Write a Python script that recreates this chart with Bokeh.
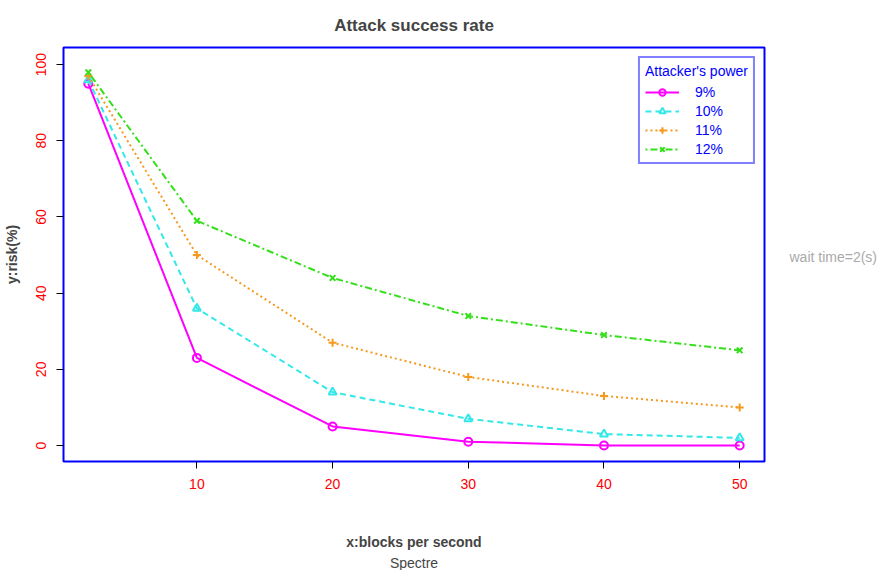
from bokeh.plotting import figure
from bokeh.models import Legend, LegendItem, Range1d, FixedTicker, LinearAxis, Title
from bokeh.embed import file_html
from bokeh.resources import INLINE

blocks = [2, 10, 20, 30, 40, 50]
power_labels = ["9%", "10%", "11%", "12%"]
risk_9 = [95, 23, 5, 1, 0, 0]
risk_10 = [96, 36, 14, 7, 3, 2]
risk_11 = [97, 50, 27, 18, 13, 10]
risk_12 = [98, 59, 44, 34, 29, 25]

colors = ["#FF00FF", "#33E8E8", "#F5991F", "#33E01A"]
dashes = ["solid", "6 4", "2 3", "2 3 7 3"]
markers = ["circle", "triangle", "cross", "x"]
font = "Liberation Sans"

p = figure(width=880, height=570, output_backend="svg", toolbar_location=None,
           x_range=Range1d(0.17, 51.83), y_range=Range1d(-4.2, 104.5),
           min_border_left=10, min_border_right=10, min_border_top=10, min_border_bottom=10)
p.grid.visible = False
p.outline_line_color = "blue"
p.outline_line_width = 2
p.xaxis.ticker = FixedTicker(ticks=[10, 20, 30, 40, 50])
p.yaxis.ticker = FixedTicker(ticks=[0, 20, 40, 60, 80, 100])
p.yaxis.major_label_orientation = "vertical"
p.xaxis.axis_label = "x:blocks per second"
p.yaxis.axis_label = "y:risk(%)"
for ax in (p.xaxis, p.yaxis):
    ax.axis_line_color = None
    ax.minor_tick_line_color = None
    ax.major_label_text_color = "red"
    ax.major_label_text_font = font
    ax.major_label_text_font_size = "14px"
    ax.major_tick_out = 7
    ax.major_tick_in = 0
    ax.major_label_standoff = 10
    ax.axis_label_text_font = font
    ax.axis_label_text_font_style = "bold"
    ax.axis_label_text_font_size = "14px"
p.xaxis.axis_label_standoff = 42
p.yaxis.axis_label_standoff = 14

side = LinearAxis(ticker=FixedTicker(ticks=[49.6]),
                  major_label_overrides={49.6: "wait time=2(s)"},
                  axis_line_color=None, major_tick_line_color=None,
                  minor_tick_line_color=None, major_label_standoff=19,
                  major_label_text_color="#AAAAAA", major_label_text_font=font,
                  major_label_text_font_size="14px")
p.add_layout(side, "right")

p.add_layout(Title(text="Spectre", align="center", text_font=font,
                   text_font_style="normal", text_font_size="14px", standoff=0), "below")
p.add_layout(Title(text="Attack success rate", align="center", text_font=font,
                   text_font_style="bold", text_font_size="17px", standoff=26), "above")

items = []
for i, ys in enumerate([risk_9, risk_10, risk_11, risk_12]):
    ln = p.line(blocks, ys, line_color=colors[i], line_width=2, line_dash=dashes[i])
    mk = p.scatter(blocks, ys, marker=markers[i], size=8, line_color=colors[i],
                   fill_color=None, line_width=2)
    items.append(LegendItem(label=power_labels[i], renderers=[ln, mk]))

legend = Legend(items=items, location="top_right", title="Attacker's power",
                title_text_color="blue", title_text_font=font,
                title_text_font_style="normal", title_text_font_size="14px",
                label_text_color="blue", label_text_font=font,
                label_text_font_size="14px", border_line_color="blue",
                border_line_width=2, label_height=16, glyph_height=16, spacing=3,
                padding=5, margin=9, label_standoff=16, glyph_width=34)
p.add_layout(legend)

open("out.html", "w").write(file_html(p, INLINE))
